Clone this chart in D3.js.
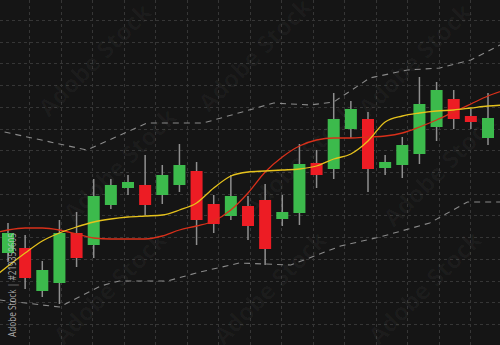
<!DOCTYPE html>
<html>
<head>
<meta charset="utf-8">
<script src="https://cdn.jsdelivr.net/npm/d3@7/dist/d3.min.js"></script>
<style>
  html, body { margin: 0; padding: 0; background: #151515; }
  svg { display: block; }
</style>
</head>
<body>
<svg id="chart" width="500" height="345"></svg>
<script>
const width = 500, height = 345;

/* candles, one per session (price units, higher = up) */
const opens  = [92, 97, 54, 62, 112, 100, 140, 157, 160, 150, 160, 174, 141, 129, 139, 145, 126, 132, 182, 176, 216, 226, 177, 180, 191, 218, 246, 229, 207];
const closes = [112, 67, 75, 112, 87, 149, 160, 163, 140, 170, 180, 125, 121, 149, 119, 96, 133, 181, 170, 226, 236, 176, 183, 200, 241, 255, 226, 223, 227];
const highs  = [122, 110, 84, 125, 133, 166, 166, 170, 190, 180, 201, 183, 150, 170, 149, 161, 150, 201, 195, 252, 244, 233, 190, 208, 268, 263, 255, 236, 252];
const lows   = [83, 56, 48, 41, 78, 87, 136, 150, 130, 141, 153, 100, 112, 125, 105, 80, 119, 120, 157, 166, 207, 153, 170, 167, 181, 204, 216, 216, 200];

/* moving averages, sampled from session -1 to session 29 */
const maIndex = d3.range(-1, 30);
const maSlow = [111, 115, 117, 117, 115, 111, 107, 106, 106, 106, 109, 115, 119, 124, 135, 152, 173, 188, 199, 205, 207, 207, 208, 209, 212, 218, 225, 233, 241, 249, 255];
const maFast = [65, 79, 92, 104, 112, 118, 123, 126, 128, 129, 130, 135, 142, 157, 169, 173, 174, 175, 176, 179, 186, 191, 204, 223, 229, 232, 234, 235, 237, 239, 240];

/* envelope bands (session position, price) */
const upperIndex = [-0.2, 4.6, 8.1, 11.4, 15.5, 17.6, 19.0, 21.1, 23.3, 25.2, 27.0, 28.7];
const upperBand  = [213, 195, 222, 222, 242, 240, 243, 267, 275, 277, 285, 300];
const lowerIndex = [-0.5, 3.0, 5.4, 6.5, 9.3, 11.2, 13.5, 16.5, 19.4, 21.7, 24.6, 26.8, 28.7];
const lowerBand  = [45, 38, 59, 64, 64, 73, 82, 80, 99, 108, 122, 143, 143];

const gridCols = d3.range(15);
const gridRows = d3.range(15);

const stamp = "Adobe Stock | #219359605";
const marks = [[95, 60], [255, 55], [415, 60], [120, 165], [300, 160], [440, 170], [270, 288], [425, 288], [110, 288]];

const svg = d3.select("#chart");

const x = d3.scaleLinear().domain([0, 28]).range([8, 488]);
const y = d3.scaleLinear().domain([0, 345]).range([height, 0]);
const gx = d3.scaleLinear().domain([0, 14]).range([29, 470]);
const gy = d3.scaleLinear().domain([0, 14]).range([20, 324]);

svg.append("rect").attr("width", width).attr("height", height).attr("fill", "#151515");

/*background grid*/
const grid = svg.append("g")
  .attr("stroke", "#363636")
  .attr("stroke-width", 1)
  .attr("stroke-dasharray", "3,3");

grid.selectAll("line.v").data(gridCols).enter().append("line")
  .attr("class", "v")
  .attr("x1", d => Math.round(gx(d)) + 0.5).attr("x2", d => Math.round(gx(d)) + 0.5)
  .attr("y1", 0).attr("y2", height);

grid.selectAll("line.h").data(gridRows).enter().append("line")
  .attr("class", "h")
  .attr("y1", d => Math.round(gy(d)) + 0.5).attr("y2", d => Math.round(gy(d)) + 0.5)
  .attr("x1", 0).attr("x2", width);

/*faint diagonal watermarks*/
svg.append("g").selectAll("text").data(marks).enter().append("text")
  .attr("transform", d => `translate(${d[0]},${d[1]}) rotate(-45)`)
  .attr("text-anchor", "middle")
  .attr("dy", "0.35em")
  .attr("font-family", "Open Sans, sans-serif")
  .attr("font-weight", "bold")
  .attr("font-size", 24)
  .attr("fill", "#ffffff")
  .attr("fill-opacity", 0.03)
  .text("Adobe Stock");

/*envelope bands*/
const bandLine = d3.line().x(d => x(d[0])).y(d => y(d[1]));
[[upperIndex, upperBand], [lowerIndex, lowerBand]].forEach(([idx, vals]) => {
  svg.append("path")
    .datum(idx.map((d, i) => [d, vals[i]]))
    .attr("d", bandLine)
    .attr("fill", "none")
    .attr("stroke", "#8a8a8a")
    .attr("stroke-width", 1.1)
    .attr("stroke-dasharray", "6,5");
});

/*candles*/
const candles = opens.map((o, i) => ({ i, o, c: closes[i], h: highs[i], l: lows[i] }));
const bodyW = 12;

const cg = svg.append("g").selectAll("g").data(candles).enter().append("g");

cg.append("line")
  .attr("x1", d => x(d.i)).attr("x2", d => x(d.i))
  .attr("y1", d => y(d.h)).attr("y2", d => y(d.l))
  .attr("stroke", "#8f8f8f")
  .attr("stroke-width", 1.5);

cg.append("rect")
  .attr("x", d => x(d.i) - bodyW / 2)
  .attr("y", d => y(Math.max(d.o, d.c)))
  .attr("width", bodyW)
  .attr("height", d => Math.abs(y(d.o) - y(d.c)))
  .attr("fill", d => (d.c >= d.o ? "#3cba4c" : "#ed1c24"));

/*moving averages*/
const maLine = d3.line().x(d => x(d[0])).y(d => y(d[1])).curve(d3.curveMonotoneX);
svg.append("path")
  .datum(maIndex.map((d, i) => [d, maSlow[i]]))
  .attr("d", maLine)
  .attr("fill", "none")
  .attr("stroke", "#d9301a")
  .attr("stroke-width", 1.3);

svg.append("path")
  .datum(maIndex.map((d, i) => [d, maFast[i]]))
  .attr("d", maLine)
  .attr("fill", "none")
  .attr("stroke", "#e6c21c")
  .attr("stroke-width", 1.3);

/*stock id stamp at the left edge*/
svg.append("text")
  .attr("transform", "translate(16,337) rotate(-90)")
  .attr("font-family", "Open Sans, sans-serif")
  .attr("font-size", 10)
  .attr("fill", "#c4c4c4")
  .attr("fill-opacity", 0.85)
  .attr("textLength", 104)
  .attr("lengthAdjust", "spacingAndGlyphs")
  .text(stamp);
</script>
</body>
</html>
